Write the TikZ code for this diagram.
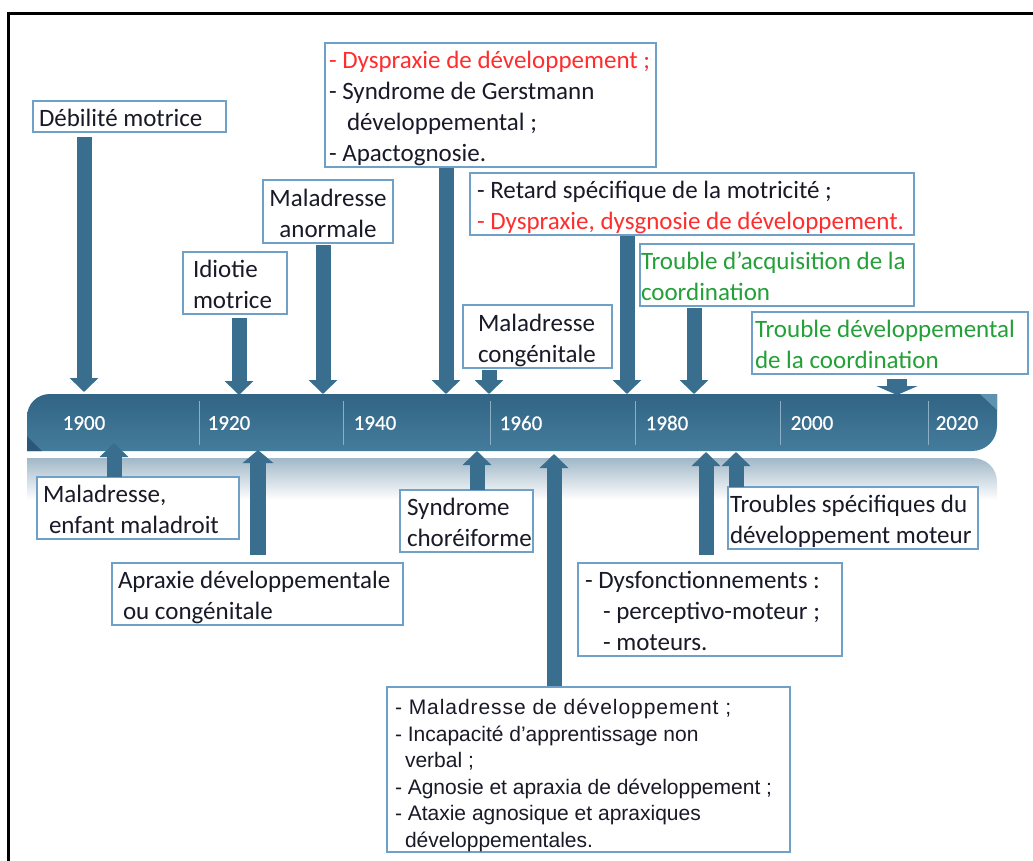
\documentclass[tikz,border=0pt]{standalone}
\usepackage{fontspec}
\setmainfont{Carlito}
\newfontfamily\arialf{Liberation Sans}
\newfontfamily\yearf[FakeBold=0.6]{Carlito}
\usetikzlibrary{arrows.meta}
\definecolor{arrowblue}{RGB}{58,110,142}
\definecolor{bartop}{RGB}{50,100,132}
\definecolor{barbot}{RGB}{68,124,156}
\definecolor{boxblue}{RGB}{110,160,200}
\definecolor{txt}{RGB}{25,25,40}
\definecolor{redt}{RGB}{255,45,45}
\definecolor{greent}{RGB}{35,160,55}
\definecolor{refl}{RGB}{160,184,200}
\definecolor{divider}{RGB}{140,175,198}
\definecolor{foldlight}{RGB}{96,146,176}
\definecolor{folddark}{RGB}{42,88,118}
% [downward shift]{width}{alignment l/c}{lines}
\newcommand\boxtext[4][4pt]{\makebox[#2][#3]{\raisebox{0pt}[\dimexpr\height+#1\relax][\dimexpr\depth-#1\relax]{\begin{tabular}{@{}#3@{}}#4\end{tabular}}}}
\begin{document}
\begin{tikzpicture}[x=1pt,y=-1pt,
  box/.style={draw=boxblue, line width=1.5pt, fill=white, anchor=north west,
    outer sep=0pt, inner ysep=0pt, inner xsep=0pt, text=txt,
    font=\fontsize{25}{31}\selectfont},
  barrow/.style={draw=arrowblue, line width=15pt,
    -{Triangle[width=28pt,length=14pt,fill=arrowblue]}},
  widearrow/.style={draw=arrowblue, line width=20pt,
    -{Triangle[width=41pt,length=9pt,fill=arrowblue]}},
  yearlbl/.style={text=white, font=\yearf\fontsize{21}{24}\selectfont, inner sep=0pt},
  divline/.style={draw=divider, line width=1pt}]
\useasboundingbox (0,0) rectangle (1033,860);
\fill[white] (0,0) rectangle (1033,860);
% frame
\draw[line width=3pt] (8,862) -- (8,13) -- (1035,13);
% reflection band
\shade[top color=refl, bottom color=white]
  (27,458) -- (972,458) .. controls (986,458) and (997,468) .. (997,482)
  -- (997,500) -- (27,500) -- cycle;
% timeline bar
\shade[top color=bartop, bottom color=barbot]
  (27,451) -- (27,417) .. controls (27,404) and (37,394) .. (50,394)
  -- (997,394) -- (997,426) .. controls (997,440) and (986,451) .. (972,451) -- cycle;
\fill[foldlight] (980,394) -- (997,394) -- (997,410) -- cycle;
\fill[folddark] (27,436) -- (27,451) -- (42,451) -- cycle;
% dividers
\foreach \xx in {199,343,490,635,780,928} \draw[divline] (\xx,401) -- (\xx,445);
% year labels
\node[yearlbl] (y1900) at (84,423) {1900};
\node[yearlbl] (y1920) at (229,423) {1920};
\node[yearlbl] (y1940) at (375,423) {1940};
\node[yearlbl] (y1960) at (521,423) {1960};
\node[yearlbl] (y1980) at (667,423) {1980};
\node[yearlbl] (y2000) at (812,423) {2000};
\node[yearlbl] (y2020) at (957,423) {2020};
% boxes above
\node[box, minimum width=193pt, minimum height=31pt, inner xsep=6pt] (deb) at (33,101)
  {\boxtext{181pt}{l}{Débilité motrice}};
\node[box, minimum width=331pt, minimum height=123pt, inner xsep=4pt] (dysp) at (325,43)
  {\boxtext{323pt}{l}{\textcolor{redt}{- Dyspraxie de développement ;}\\- Syndrome de Gerstmann\\\hspace*{18pt}développemental ;\\- Apactognosie.}};
\node[box, minimum width=130pt, minimum height=63pt, inner xsep=3pt] (malanorm) at (263,180)
  {\boxtext{124pt}{c}{Maladresse\\anormale}};
\node[box, minimum width=104pt, minimum height=62pt, inner xsep=10pt] (idiot) at (183,252)
  {\boxtext{84pt}{l}{Idiotie\\motrice}};
\node[box, minimum width=149pt, minimum height=63pt, inner xsep=15pt] (malcong) at (463,305)
  {\boxtext{119pt}{l}{Maladresse\\congénitale}};
\node[box, minimum width=444pt, minimum height=62pt, inner xsep=7pt] (retard) at (470,173)
  {\boxtext{430pt}{l}{- Retard spécifique de la motricité ;\\\textcolor{redt}{- Dyspraxie, dysgnosie de développement.}}};
\node[box, minimum width=274pt, minimum height=62pt, inner xsep=1pt, text=greent] (tac) at (640,244)
  {\boxtext{272pt}{l}{Trouble d’acquisition de la\\coordination}};
\node[box, minimum width=276pt, minimum height=60pt, inner xsep=3pt, text=greent] (tdc) at (752,312)
  {\boxtext{270pt}{l}{Trouble développemental\\de la coordination}};
% boxes below
\node[box, minimum width=202pt, minimum height=62pt, inner xsep=6pt] (malenf) at (37,477)
  {\boxtext{190pt}{l}{Maladresse,\\\hspace*{6pt}enfant maladroit}};
\node[box, minimum width=291pt, minimum height=61pt, inner xsep=6pt] (aprax) at (112,563)
  {\boxtext{279pt}{l}{Apraxie développementale\\\hspace*{5pt}ou congénitale}};
\node[box, minimum width=133pt, minimum height=61pt, inner xsep=7pt] (chor) at (400,490)
  {\boxtext{119pt}{l}{Syndrome\\choréiforme}};
\node[box, minimum width=250pt, minimum height=61pt, inner xsep=2pt] (tsdm) at (728,487)
  {\boxtext{246pt}{l}{Troubles spécifiques du\\développement moteur}};
\node[box, minimum width=264pt, minimum height=92pt, inner xsep=7pt] (dysf) at (578,563)
  {\boxtext{250pt}{l}{- Dysfonctionnements :\\\hspace*{18pt}- perceptivo-moteur ;\\\hspace*{18pt}- moteurs.}};
\node[box, minimum width=403pt, minimum height=165pt, inner xsep=8pt,
      font=\arialf\fontsize{21}{26.5}\selectfont] (maldev) at (387,687)
  {\boxtext[6pt]{387pt}{l}{{\addfontfeature{LetterSpace=4.5}- Maladresse de développement ;}\\- Incapacité d’apprentissage non\\\hspace*{10pt}verbal ;\\- Agnosie et apraxia de développement ;\\- Ataxie agnosique et apraxiques\\\hspace*{10pt}développementales.}};
% tip coordinates on the bar
\coordinate (t1) at (84,392);
\coordinate (t2) at (239,395);
\coordinate (t3) at (323,394);
\coordinate (t4) at (446,394);
\coordinate (t5) at (489,394);
\coordinate (t6) at (627,394);
\coordinate (t7) at (694,394);
\coordinate (t8) at (897,395);
\coordinate (u1) at (114,443);
\coordinate (u2) at (258,450);
\coordinate (u3) at (477,451);
\coordinate (u4) at (554,454);
\coordinate (u5) at (706,452);
\coordinate (u6) at (736,452);
% downward arrows
\draw[barrow, shorten <=5pt] (deb.south -| t1) -- (t1);
\draw[barrow, shorten <=4pt] (idiot.south -| t2) -- (t2);
\draw[barrow, shorten <=2pt] (malanorm.south -| t3) -- (t3);
\draw[barrow, shorten <=1pt] (dysp.south -| t4) -- (t4);
\draw[barrow, shorten <=2pt] (malcong.south -| t5) -- (t5);
\draw[barrow, shorten <=1pt] (retard.south -| t6) -- (t6);
\draw[barrow, shorten <=2pt] (tac.south -| t7) -- (t7);
\draw[widearrow, shorten <=5pt] (tdc.south -| t8) -- (t8);
% upward arrows
\draw[barrow] (malenf.north -| u1) -- (u1);
\draw[barrow, line width=16pt, -{Triangle[width=30pt,length=13pt,fill=arrowblue]}, shorten <=8pt] (aprax.north -| u2) -- (u2);
\draw[barrow] (chor.north -| u3) -- (u3);
\draw[barrow, shorten <=1pt] (maldev.north -| u4) -- (u4);
\draw[barrow, shorten <=8pt] (dysf.north -| u5) -- (u5);
\draw[barrow] (tsdm.north -| u6) -- (u6);
\end{tikzpicture}
\end{document}
